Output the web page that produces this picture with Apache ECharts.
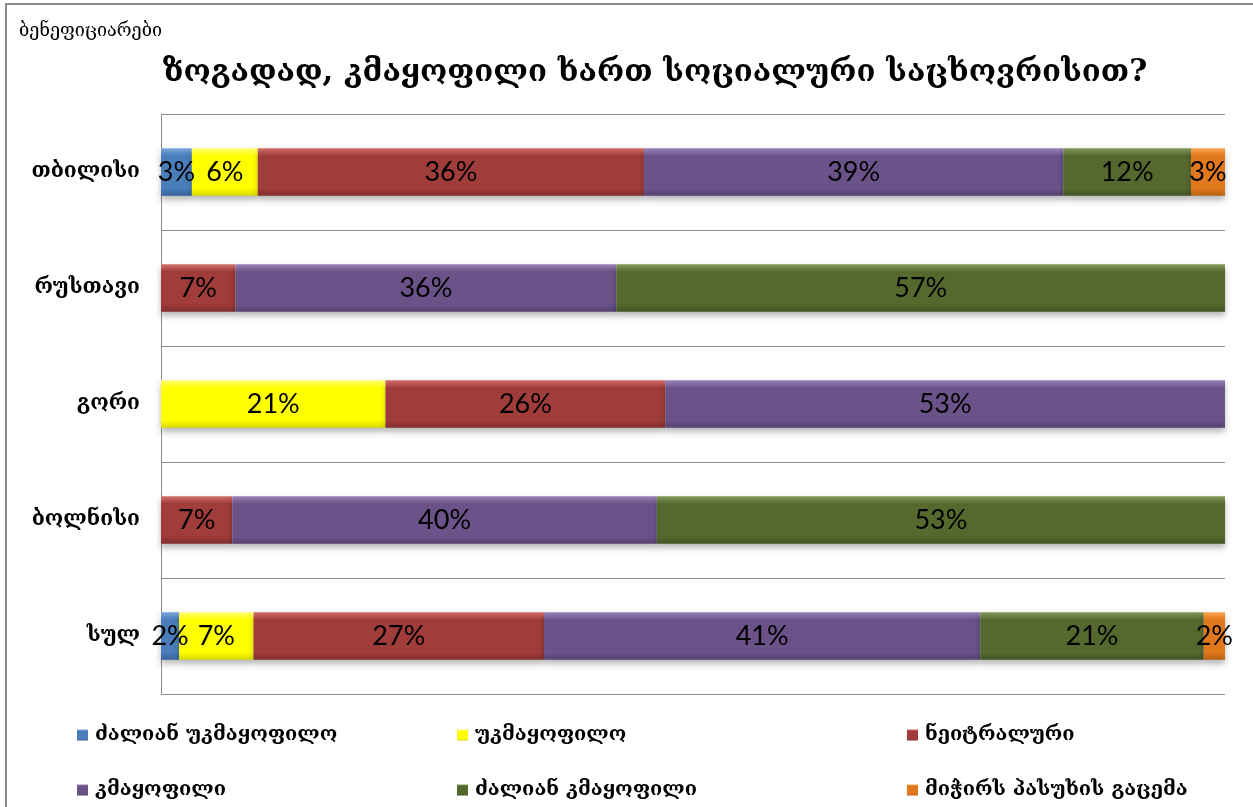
<!DOCTYPE html>
<html>
<head>
<meta charset="utf-8">
<script src="https://cdn.jsdelivr.net/npm/echarts@6/dist/echarts.min.js"></script>
<style>
html,body{margin:0;padding:0;background:#fff;}
#chart{position:absolute;left:0;top:0;width:1253px;height:807px;}
#frame{position:absolute;left:5px;top:3px;width:1248px;height:804px;border-top:2px solid #8a8a8a;border-left:2px solid #8a8a8a;pointer-events:none;}
</style>
</head>
<body>
<div id="chart"></div>
<div id="frame"></div>
<script>
var subtitleText = 'ბენეფიციარები';
var titleText = 'ზოგადად, კმაყოფილი ხართ სოციალური საცხოვრისით?';
var categories = ['თბილისი', 'რუსთავი', 'გორი', 'ბოლნისი', 'სულ'];
var seriesNames = ['ძალიან უკმაყოფილო', 'უკმაყოფილო', 'ნეიტრალური', 'კმაყოფილი', 'ძალიან კმაყოფილი', 'მიჭირს პასუხის გაცემა'];
var veryDissatisfied = [2.9, '-', '-', '-', 1.7];
var dissatisfied     = [6.2, '-', 21.1, '-', 7.0];
var neutral          = [36.3, 7.0, 26.3, 6.7, 27.3];
var satisfied        = [39.4, 35.8, 52.6, 39.9, 41.0];
var verySatisfied    = [12.0, 57.2, '-', 53.4, 21.0];
var noAnswer         = [3.2, '-', '-', '-', 2.0];
var seriesData = [veryDissatisfied, dissatisfied, neutral, satisfied, verySatisfied, noAnswer];
var colors = [
  {base:'#4a7ebb', light:'#7ea6dc', dark:'#36639a'},
  {base:'#ffff00', light:'#ffff70', dark:'#d8d800'},
  {base:'#a03c3a', light:'#d2706c', dark:'#80302e'},
  {base:'#6b538a', light:'#9a83b8', dark:'#564270'},
  {base:'#55692f', light:'#84995b', dark:'#435424'},
  {base:'#e2781e', light:'#f9a552', dark:'#b85f14'}
];
var geoFont = '"DejaVu Serif", "DejaVu Sans", serif';

function grad(c){
  return new echarts.graphic.LinearGradient(0,0,0,1,[
    {offset:0, color:c.light},
    {offset:0.16, color:c.base},
    {offset:0.84, color:c.base},
    {offset:1, color:c.dark}
  ]);
}

var chart = echarts.init(document.getElementById('chart'), null, {renderer:'canvas'});

var series = seriesNames.map(function(name, i){
  return {
    name: name,
    type: 'bar',
    stack: 'total',
    barWidth: '41%',
    data: seriesData[i],
    itemStyle: {
      color: grad(colors[i]),
      shadowColor: 'rgba(0,0,0,0.28)',
      shadowBlur: 6,
      shadowOffsetY: 4
    },
    label: {
      show: true,
      position: 'inside',
      color: '#000',
      fontFamily: 'Lato, "Open Sans", sans-serif',
      fontSize: 27,
      formatter: function(p){ return Math.round(p.value) + '%'; }
    },
    emphasis: {disabled: true}
  };
});

var legendPos = [
  {left: 72, top: 720}, {left: 452, top: 720}, {left: 902, top: 720},
  {left: 72, top: 775}, {left: 452, top: 775}, {left: 902, top: 775}
];
var legends = seriesNames.map(function(name, i){
  return {
    data: [{name: name, icon: 'rect', itemStyle: {color: grad(colors[i]), shadowBlur: 0}}],
    left: legendPos[i].left,
    top: legendPos[i].top,
    itemWidth: 11,
    itemHeight: 11,
    selectedMode: false,
    textStyle: {fontFamily: geoFont, fontSize: 20, color: '#000', fontWeight: 'bold', padding: [0,0,0,2]}
  };
});

chart.setOption({
  animation: false,
  title: [
    {text: subtitleText, left: 14, top: 17, textStyle: {fontFamily: geoFont, fontSize: 18, fontWeight: 'normal', color: '#000'}},
    {text: titleText, left: 650, textAlign: 'center', top: 52, textStyle: {fontFamily: geoFont, fontSize: 31, fontWeight: 'bold', color: '#000'}}
  ],
  legend: legends,
  grid: {left: 161, right: 28, top: 114, bottom: 113, containLabel: false},
  xAxis: {type: 'value', min: 0, max: 100, show: false},
  yAxis: {
    type: 'category',
    data: categories,
    inverse: true,
    axisLine: {show: true, lineStyle: {color: '#8c8c8c', width: 1}},
    axisTick: {show: false},
    splitLine: {show: true, lineStyle: {color: '#8c8c8c', width: 1}},
    axisLabel: {margin: 21, fontFamily: geoFont, fontSize: 21, fontWeight: 'bold', color: '#000'}
  },
  series: series
});
</script>
</body>
</html>
